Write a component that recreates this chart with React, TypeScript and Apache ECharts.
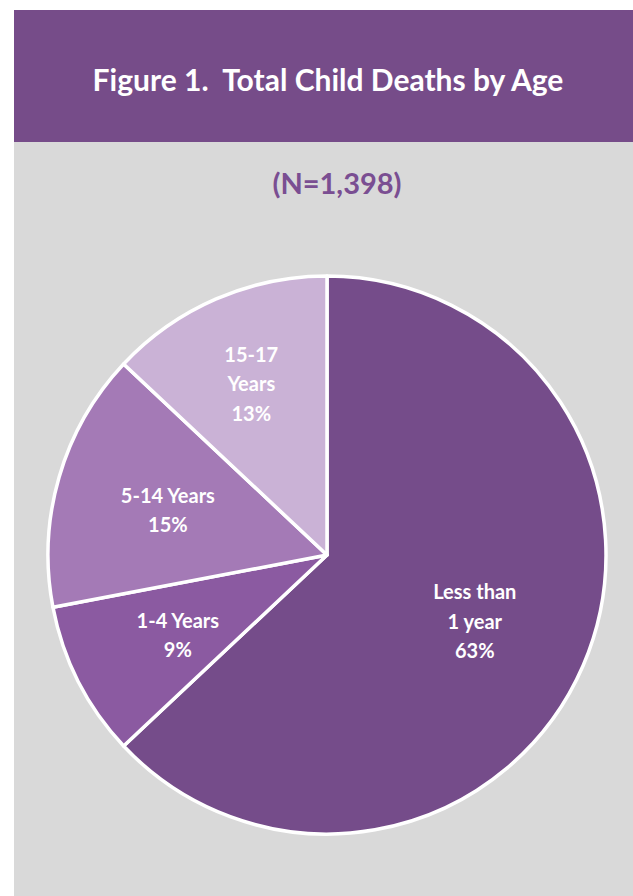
import React, { useEffect, useRef } from "react";
import * as echarts from "echarts";

const title = "Figure 1.  Total Child Deaths by Age";
const subtitle = "(N=1,398)";
const categories = ["Less than\n1 year", "1-4 Years", "5-14 Years", "15-17\nYears"];
const percents = [63, 9, 15, 13];
const colors = ["#754C8A", "#8B5AA1", "#A47AB6", "#CAB2D6"];
const labelOffsets = [[-11, -3], [5, 1], [7, 3], [-7, -13]];

export default function App() {
  const ref = useRef<HTMLDivElement>(null);
  useEffect(() => {
    const chart = echarts.init(ref.current!, null, { renderer: "svg" });
    const data = categories.map((c, i) => ({
      name: c,
      value: percents[i],
      itemStyle: { color: colors[i] },
    }));
    chart.setOption({
      animation: false,
      graphic: [
        { type: "rect", shape: { x: 14, y: 10, width: 619, height: 132 }, style: { fill: "#764C89" }, z: -10 },
        { type: "rect", shape: { x: 14, y: 142, width: 619, height: 754 }, style: { fill: "#D9D9D9" }, z: -10 },
      ],
      title: [
        {
          text: title,
          left: 323,
          top: 59,
          textAlign: "center",
          textStyle: { color: "#FFFFFF", fontFamily: "Lato", fontWeight: "bold", fontSize: 30 },
        },
        {
          text: subtitle,
          left: 332,
          top: 163,
          textAlign: "center",
          textStyle: { color: "#7A4E92", fontFamily: "Lato", fontWeight: "bold", fontSize: 29 },
        },
      ],
      series: [
        {
          type: "pie",
          center: [327, 555],
          radius: [0, 279],
          startAngle: 90,
          clockwise: true,
          silent: true,
          label: { show: false },
          labelLine: { show: false },
          itemStyle: { borderColor: "#FFFFFF", borderWidth: 3.5 },
          data,
        },
        {
          type: "pie",
          center: [327, 555],
          radius: [0, 340],
          startAngle: 90,
          clockwise: true,
          silent: true,
          z: 5,
          itemStyle: { color: "rgba(0,0,0,0)", borderWidth: 0 },
          labelLine: { show: false },
          label: {
            show: true,
            position: "inside",
            formatter: (p: any) => `${p.name}\n${p.value}%`,
            color: "#FFFFFF",
            fontFamily: "Lato",
            fontWeight: "bold",
            fontSize: 20,
            lineHeight: 29.5,
          },
          data: categories.map((c, i) => ({
            name: c,
            value: percents[i],
            label: { offset: labelOffsets[i] },
          })),
        },
      ],
    });
    return () => chart.dispose();
  }, []);
  return <div ref={ref} style={{ position: "absolute", left: 0, top: 0, width: 633, height: 896 }} />;
}
